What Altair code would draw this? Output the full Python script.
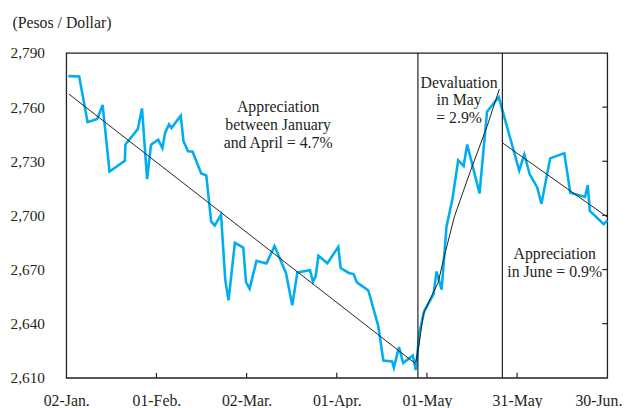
import altair as alt
import pandas as pd

# Exchange rate (pesos per dollar), x = days since 02-Jan
rate_days = [0.7, 4.3, 7.1, 10.3, 12.1, 14.4, 19.5, 19.7, 23.8, 25.2,
             26.9, 28.2, 30.6, 32.0, 32.9, 34.2, 35.0, 38.1, 39.0, 40.5,
             42.0, 44.9, 46.6, 48.2, 49.4, 51.5, 52.9, 54.0, 56.1, 58.9,
             59.8, 61.0, 63.3, 66.6, 69.3, 73.1, 75.2, 76.9, 81.1, 82.1,
             83.0, 83.9, 86.9, 90.5, 91.3, 94.0, 95.6, 96.7, 100.5, 103.8,
             105.5, 108.4, 109.0, 110.7, 112.1, 115.3, 116.3, 117.5, 119.1, 122.2,
             123.2, 124.9, 126.5, 128.5, 130.4, 132.2, 133.4, 137.5, 140.0, 142.2,
             143.9, 150.7, 152.4, 154.2, 156.7, 158.1, 161.0, 165.7, 167.7, 172.6,
             173.5, 174.2, 178.8, 180.0]
rate_values = [2777.2, 2777.0, 2751.7, 2753.4, 2761.2, 2724.3, 2730.3, 2739.3, 2747.8, 2759.3,
               2720.1, 2739.2, 2742.0, 2737.3, 2745.9, 2750.4, 2748.4, 2755.3, 2741.1, 2735.6,
               2735.4, 2723.2, 2722.2, 2696.7, 2694.4, 2700.4, 2664.4, 2652.9, 2684.8, 2682.2,
               2663.0, 2659.4, 2674.8, 2673.3, 2683.0, 2668.1, 2650.2, 2668.4, 2669.6, 2663.3,
               2666.4, 2677.7, 2673.5, 2682.6, 2670.8, 2668.1, 2667.5, 2662.9, 2658.4, 2638.8,
               2619.6, 2619.1, 2615.6, 2627.0, 2618.2, 2622.4, 2614.2, 2635.2, 2647.0, 2656.2,
               2668.9, 2658.9, 2693.6, 2709.2, 2730.5, 2727.4, 2739.3, 2712.2, 2757.5, 2762.1,
               2765.5, 2724.9, 2733.8, 2722.8, 2715.5, 2706.4, 2731.6, 2734.5, 2712.6, 2710.2,
               2716.8, 2702.5, 2695.1, 2697.3]

# Trend lines
trend_jan_apr_days = [0.9, 116.2]
trend_jan_apr_values = [2767.2, 2617.8]
trend_may_days = [116.3, 117.5, 118.8, 121.5, 123.7, 125.5, 129.1, 134.5, 140.0, 144.1]
trend_may_values = [2618.8, 2629.7, 2645.2, 2655.2, 2662.6, 2675.4, 2699.1, 2724.7, 2749.3, 2770.0]
trend_jun_days = [145.2, 180.0]
trend_jun_values = [2740.1, 2699.1]

# Period separators
separator_days = [117.0, 145.1]

# Axis ticks and labels
x_tick_days = [0, 30, 60, 90, 120, 150, 180]
x_tick_labels = ["02-Jan.", "01-Feb.", "02-Mar.", "01-Apr.", "01-May", "31-May", "30-Jun."]
y_ticks = [2610, 2640, 2670, 2700, 2730, 2760, 2790]

# Annotations
note_texts = ["Appreciation\nbetween January\nand April = 4.7%",
              "Devaluation\nin May\n= 2.9%",
              "Appreciation\nin June = 0.9%"]
note_days = [70.5, 130.7, 162.5]
note_values = [2757.1, 2770.8, 2675.7]

FONT = "'Liberation Serif', 'Times New Roman', Times, 'DejaVu Serif', serif"
INK = "#231f20"
BLUE = "#00aeef"
W, H = 548, 329

rate_df = pd.DataFrame({"day": rate_days, "value": rate_values})
trend_df = pd.concat([
    pd.DataFrame({"day": trend_jan_apr_days, "value": trend_jan_apr_values, "seg": "a"}),
    pd.DataFrame({"day": trend_may_days, "value": trend_may_values, "seg": "b"}),
    pd.DataFrame({"day": trend_jun_days, "value": trend_jun_values, "seg": "c"}),
])
sep_df = pd.DataFrame({"day": separator_days})
xt_df = pd.DataFrame({"day": x_tick_days[1:-1]})
yt_df = pd.DataFrame({"value": y_ticks[1:-1]})
note_df = pd.DataFrame({"day": note_days, "value": note_values, "label": note_texts})

label_expr = "[" + ",".join("'%s'" % s for s in x_tick_labels) + "][round(datum.value/30)]"

x_scale = alt.Scale(domain=[0, 180], nice=False, zero=False)
y_scale = alt.Scale(domain=[2610, 2790], nice=False, zero=False)

x_enc = alt.X("day:Q", scale=x_scale,
              axis=alt.Axis(values=x_tick_days, labelExpr=label_expr, title=None,
                            grid=False, domain=False, ticks=False, labelPadding=15,
                            labelFont=FONT, labelFontSize=16, labelColor=INK,
                            labelFlush=False, labelOverlap=False,
                            labelOffset={"condition": {"test": "datum.value >= 180", "value": -9},
                                         "value": 0}))
y_enc = alt.Y("value:Q", scale=y_scale,
              axis=alt.Axis(values=y_ticks, format=",.0f", grid=False, domain=False,
                            ticks=False, labelPadding=22, labelFont=FONT,
                            labelFontSize=15.5, labelColor=INK,
                            title="(Pesos / Dollar)", titleAngle=0, titleAlign="left",
                            titleBaseline="alphabetic", titleX=-55, titleY=-26,
                            titleFont=FONT, titleFontSize=16, titleFontWeight="normal",
                            titleColor=INK))

rate_line = alt.Chart(rate_df).mark_line(color=BLUE, strokeWidth=2.6).encode(x=x_enc, y=y_enc)

trend = alt.Chart(trend_df).mark_line(color=INK, strokeWidth=1).encode(
    x="day:Q", y="value:Q", detail="seg:N")

seps = alt.Chart(sep_df).mark_rule(color=INK, strokeWidth=1.2).encode(x="day:Q")

xticks = alt.Chart(xt_df).mark_rule(color=INK, strokeWidth=1.2).encode(
    x="day:Q", y=alt.value(H), y2=alt.value(H - 5))
yticks = alt.Chart(yt_df).mark_rule(color=INK, strokeWidth=1.2).encode(
    y="value:Q", x=alt.value(W - 5), x2=alt.value(W))

notes = alt.Chart(note_df).mark_text(font=FONT, fontSize=16, color=INK, align="center",
                                     baseline="alphabetic", lineBreak="\n",
                                     lineHeight=18).encode(
    x="day:Q", y="value:Q", text="label:N")

chart = alt.layer(rate_line, trend, seps, xticks, yticks, notes).properties(
    width=W, height=H,
    autosize=alt.AutoSizeParams(type="none"),
    padding={"left": 59, "top": 43, "right": 21, "bottom": 28},
    background="white",
).configure_view(stroke=INK, strokeWidth=1.3)

chart.save("out.html", embed_options={"renderer": "svg", "actions": False})
